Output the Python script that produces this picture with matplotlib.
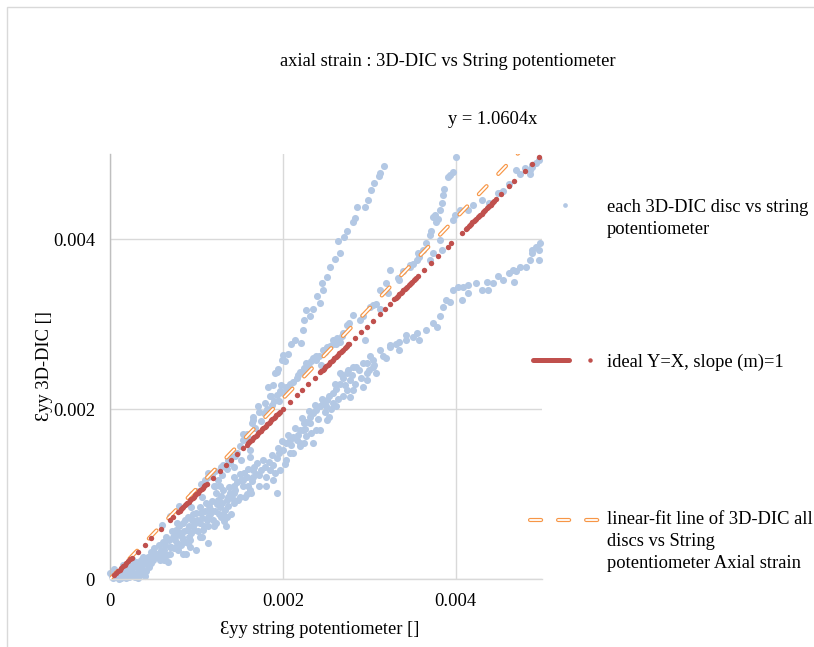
import numpy as np
import matplotlib
matplotlib.use('Agg')
import matplotlib.pyplot as plt
from matplotlib.lines import Line2D
from matplotlib.legend_handler import HandlerBase
from matplotlib.patches import Rectangle

plt.rcParams['font.family'] = ['Liberation Serif', 'DejaVu Serif']
plt.rcParams['lines.scale_dashes'] = False

BLUE = '#B3C8E4'
RED = '#C0504D'
ORANGE = '#F79646'
FS = 13.3

# values, in millistrain (x = string pot, y = 3D-DIC)
low_cluster = [
    (0.00, 0.07), (0.02, 0.03), (0.03, 0.05), (0.04, 0.01), (0.06, 0.08), (0.07, 0.02),
    (0.08, 0.04), (0.10, 0.00), (0.11, 0.06), (0.12, 0.03), (0.13, 0.01), (0.14, 0.10),
    (0.16, 0.06), (0.17, 0.03), (0.18, 0.12), (0.19, 0.01), (0.20, 0.08), (0.21, 0.05),
    (0.22, 0.02), (0.23, 0.10), (0.24, 0.15), (0.25, 0.08), (0.26, 0.12), (0.27, 0.03),
    (0.29, 0.02), (0.30, 0.06), (0.31, 0.14), (0.32, 0.01), (0.33, 0.09), (0.34, 0.16),
    (0.35, 0.05), (0.37, 0.12), (0.38, 0.08), (0.39, 0.18), (0.40, 0.04), (0.42, 0.10),
    (0.44, 0.18), (0.46, 0.26), (0.50, 0.22), (0.05, 0.12), (0.15, 0.17), (0.25, 0.24),
    (0.28, 0.18), (0.30, 0.20), (0.34, 0.12), (0.36, 0.22), (0.38, 0.26), (0.41, 0.22),
    (0.44, 0.26), (0.45, 0.14), (0.47, 0.32), (0.48, 0.19), (0.51, 0.36), (0.52, 0.30),
    (0.54, 0.30), (0.55, 0.26), (0.57, 0.40), (0.58, 0.22), (0.59, 0.34), (0.60, 0.28),
    (0.61, 0.44), (0.62, 0.34), (0.63, 0.22), (0.64, 0.40), (0.65, 0.50), (0.66, 0.28),
    (0.67, 0.20), (0.68, 0.46), (0.69, 0.38), (0.70, 0.30), (0.71, 0.38), (0.72, 0.56),
    (0.73, 0.50), (0.74, 0.36), (0.75, 0.46), (0.76, 0.58), (0.77, 0.42), (0.77, 0.66),
    (0.78, 0.52), (0.79, 0.34), (0.80, 0.62), (0.81, 0.54), (0.82, 0.40), (0.83, 0.50),
    (0.84, 0.66), (0.85, 0.46), (0.85, 0.30), (0.86, 0.56), (0.87, 0.70), (0.88, 0.30),
    (0.88, 0.44), (0.89, 0.58), (0.90, 0.42), (0.90, 0.73), (0.91, 0.62), (0.92, 0.50),
    (0.93, 0.46), (0.93, 0.38), (0.94, 0.54), (0.94, 0.85), (0.95, 0.70), (0.96, 0.62),
    (0.96, 0.77), (0.97, 0.58), (0.98, 0.66), (0.99, 0.78), (1.00, 0.34), (1.01, 0.70),
    (1.02, 0.56), (1.04, 0.66), (1.04, 0.50), (1.04, 0.85), (1.05, 0.78), (1.06, 0.50),
    (1.06, 0.97), (1.07, 0.72), (1.08, 0.58), (1.09, 0.62), (1.10, 0.80), (1.11, 0.90),
    (1.12, 0.69), (1.13, 0.42), (1.13, 0.73), (1.14, 0.62), (1.15, 0.86), (1.16, 0.77),
    (1.17, 0.81), (1.18, 0.92), (1.19, 0.70), (1.20, 0.62), (1.21, 1.09), (1.22, 0.80),
    (1.23, 0.66), (1.23, 1.01), (1.24, 0.88), (1.25, 0.93), (1.26, 0.76), (1.27, 0.85),
    (1.27, 1.09), (1.28, 0.98), (1.29, 0.73), (1.30, 0.90), (1.31, 0.77), (1.31, 1.05),
    (1.32, 0.68), (1.33, 0.81), (1.34, 0.62), (1.35, 0.93), (1.35, 0.73), (1.36, 0.97),
    (1.37, 0.86), (1.38, 1.08), (1.39, 1.01), (1.40, 0.77), (1.41, 0.95), (1.43, 0.89),
    (1.43, 1.09), (1.43, 1.20), (1.44, 1.01), (1.45, 1.05), (1.47, 1.14), (1.48, 0.93),
    (1.50, 0.97), (1.50, 1.24), (1.52, 1.17), (1.54, 1.09), (1.54, 1.16), (1.55, 1.25),
    (1.56, 0.97), (1.58, 1.20), (1.58, 1.00), (1.60, 1.09), (1.60, 1.30), (1.62, 1.05),
    (1.62, 1.44), (1.63, 1.01), (1.64, 1.15), (1.66, 1.20), (1.66, 1.28), (1.67, 1.32),
    (1.69, 1.24), (1.70, 1.36), (1.72, 1.10), (1.75, 1.28), (1.77, 1.40),
]

near_ideal = [
    (0.60, 0.64), (0.70, 0.74), (0.80, 0.86), (0.95, 1.00), (1.00, 1.04), (1.05, 1.12),
    (1.10, 1.17), (1.13, 1.20), (1.13, 1.25), (1.18, 1.22), (1.20, 1.10), (1.21, 1.27),
    (1.25, 1.17), (1.29, 1.32), (1.30, 1.22), (1.31, 1.34), (1.35, 1.30), (1.36, 1.40),
    (1.39, 1.36), (1.40, 1.44), (1.43, 1.32), (1.45, 1.45), (1.47, 1.48), (1.50, 1.56),
    (1.52, 1.40), (1.54, 1.63), (1.54, 1.71), (1.58, 1.71), (1.60, 1.66), (1.62, 1.52),
    (1.64, 1.83), (1.66, 1.87), (1.66, 1.91), (1.68, 1.78), (1.71, 2.03), (1.73, 1.97),
    (1.75, 1.86), (1.78, 1.95), (1.79, 2.07), (1.82, 2.00), (1.85, 2.15), (1.87, 2.05),
    (1.90, 2.10), (1.93, 2.17), (1.96, 2.09), (1.97, 2.21), (1.98, 2.28), (2.00, 2.19),
    (2.02, 2.20), (2.04, 2.26), (2.08, 2.30), (2.12, 2.32), (2.16, 2.36), (2.18, 2.40),
    (2.20, 2.44), (2.24, 2.42), (2.25, 2.48), (2.27, 2.54), (2.30, 2.50), (2.33, 2.56),
    (2.35, 2.60), (2.39, 2.58), (2.39, 2.62), (2.42, 2.62), (2.44, 2.52), (2.47, 2.69),
    (2.49, 2.67), (2.51, 2.73), (2.50, 2.71), (2.55, 2.74), (2.58, 2.77), (2.58, 2.81),
    (2.62, 2.77), (2.63, 2.84), (2.66, 2.79), (2.68, 2.86), (2.70, 2.89), (2.74, 2.99),
    (2.77, 3.01), (2.81, 3.11), (2.89, 3.05), (2.93, 3.09), (2.95, 2.81), (3.01, 3.20),
    (3.04, 3.22), (3.08, 3.24), (3.12, 3.18), (3.12, 3.40), (3.20, 3.48), (3.22, 3.36),
    (3.24, 3.64), (3.33, 3.54), (3.35, 3.52), (3.39, 3.62), (3.47, 3.67), (3.47, 3.69),
    (3.51, 3.71), (3.55, 3.75), (3.57, 3.83), (3.58, 3.79), (3.62, 3.87), (3.70, 3.75),
    (3.74, 3.83), (3.84, 3.87), (3.82, 3.99),
]

steep_disc = [
    (1.83, 2.26), (1.86, 2.15), (1.89, 2.28), (1.91, 2.42), (1.93, 2.44), (1.95, 2.47),
    (1.99, 2.58), (2.00, 2.64), (2.02, 2.56), (2.06, 2.65), (2.10, 2.77), (2.14, 2.81),
    (2.21, 2.78), (2.23, 2.93), (2.25, 3.05), (2.27, 3.16), (2.31, 3.09), (2.35, 3.18),
    (2.40, 3.33), (2.43, 3.25), (2.45, 3.48), (2.47, 3.40), (2.51, 3.55), (2.55, 3.67),
    (2.60, 3.77), (2.64, 3.98), (2.66, 3.83), (2.71, 4.02), (2.74, 4.09), (2.81, 4.20),
    (2.83, 4.25), (2.86, 4.38), (2.95, 4.38), (2.99, 4.46), (3.02, 4.58), (3.06, 4.66),
    (3.11, 4.74), (3.13, 4.78), (3.17, 4.86),
]

upper_disc = [
    (3.66, 3.95), (3.70, 4.05), (3.72, 4.10), (3.74, 4.26), (3.76, 4.28), (3.77, 4.20),
    (3.80, 4.24), (3.82, 4.34), (3.84, 4.42), (3.85, 4.52), (3.87, 4.59), (3.91, 4.73),
    (3.93, 4.75), (3.97, 4.79), (4.00, 4.96),
]

top_right = [
    (3.97, 4.22), (3.99, 4.28), (4.05, 4.34), (4.14, 4.34), (4.20, 4.40), (4.30, 4.46),
    (4.39, 4.42), (4.49, 4.54), (4.51, 4.54), (4.55, 4.56), (4.62, 4.65), (4.70, 4.81),
    (4.74, 4.77), (4.80, 4.83), (4.86, 4.81), (4.86, 4.77), (4.88, 4.87), (4.89, 4.85),
    (4.93, 4.90), (4.97, 4.93),
]

lower_band = [
    (1.73, 1.22), (1.79, 1.32), (1.80, 1.20), (1.81, 1.09), (1.84, 1.38), (1.85, 1.28),
    (1.88, 1.46), (1.89, 1.17), (1.89, 1.34), (1.91, 1.25), (1.93, 1.42), (1.93, 1.01),
    (1.95, 1.54), (1.96, 1.48), (1.97, 1.28), (1.99, 1.62), (2.00, 1.52), (2.02, 1.35),
    (2.04, 1.60), (2.04, 1.40), (2.06, 1.70), (2.08, 1.63), (2.08, 1.48), (2.10, 1.58),
    (2.12, 1.67), (2.12, 1.48), (2.14, 1.78), (2.16, 1.63), (2.18, 1.70), (2.20, 1.75),
    (2.20, 1.60), (2.20, 1.56), (2.22, 1.90), (2.23, 1.75), (2.24, 1.83), (2.24, 1.60),
    (2.26, 1.76), (2.27, 1.85), (2.27, 1.68), (2.30, 1.98), (2.31, 1.91), (2.31, 1.83),
    (2.33, 1.72), (2.35, 1.95), (2.35, 1.60), (2.37, 2.05), (2.39, 1.99), (2.39, 1.75),
    (2.41, 1.88), (2.43, 2.03), (2.43, 1.75), (2.45, 2.12), (2.47, 2.07), (2.49, 1.96),
    (2.50, 2.03), (2.51, 2.11), (2.51, 1.87), (2.54, 2.15), (2.54, 1.91), (2.56, 2.00),
    (2.58, 2.19), (2.58, 2.07), (2.60, 2.30), (2.62, 2.24), (2.62, 2.03), (2.64, 2.12),
    (2.66, 2.30), (2.68, 2.40), (2.70, 2.36), (2.70, 2.15), (2.72, 2.28), (2.74, 2.42),
    (2.74, 2.22), (2.76, 2.46), (2.78, 2.14), (2.78, 2.34), (2.80, 2.40), (2.81, 2.22),
    (2.84, 2.30), (2.88, 2.46), (2.90, 2.36), (2.93, 2.26), (2.97, 2.42), (2.97, 2.34),
    (3.00, 2.46), (3.04, 2.50), (3.06, 2.52), (3.08, 2.42), (3.20, 2.60),
]

right_band = [
    (2.66, 2.42), (2.81, 2.50), (2.85, 2.50), (2.93, 2.54), (2.97, 2.54), (3.01, 2.62),
    (3.04, 2.58), (3.12, 2.69), (3.16, 2.62), (3.24, 2.73), (3.24, 2.75), (3.31, 2.77),
    (3.35, 2.69), (3.35, 2.79), (3.43, 2.81), (3.43, 2.87), (3.51, 2.85), (3.55, 2.89),
    (3.58, 2.81), (3.66, 2.93), (3.74, 3.01), (3.78, 2.97), (3.82, 3.09), (3.85, 3.20),
    (3.89, 3.28), (3.93, 3.26), (3.97, 3.40), (4.03, 3.44), (4.07, 3.28), (4.09, 3.44),
    (4.14, 3.46), (4.14, 3.36), (4.24, 3.48), (4.30, 3.40), (4.36, 3.50), (4.38, 3.40),
    (4.43, 3.48), (4.49, 3.56), (4.55, 3.52), (4.62, 3.60), (4.66, 3.64), (4.68, 3.50),
    (4.70, 3.62), (4.74, 3.67), (4.82, 3.67), (4.86, 3.75), (4.88, 3.87), (4.89, 3.83),
    (4.93, 3.91), (4.97, 3.87), (4.97, 3.75), (4.98, 3.95),
]

# string pot readings used for the ideal Y=X series
ideal_x = [
    0.05, 0.07, 0.09, 0.11, 0.13, 0.15, 0.17, 0.19, 0.21, 0.23, 0.25,
    0.32, 0.40, 0.48, 0.59, 0.69, 0.73,
    0.79, 0.805, 0.82, 0.835, 0.85, 0.865, 0.88, 0.895, 0.91, 0.925, 0.94, 0.955,
    0.97, 0.985, 1.00, 1.015, 1.03, 1.045, 1.06, 1.075, 1.09, 1.105, 1.12,
    1.19, 1.27, 1.34, 1.40, 1.47, 1.54,
    1.58, 1.595, 1.61, 1.625, 1.64, 1.655, 1.67, 1.685, 1.70, 1.715, 1.73, 1.745,
    1.76, 1.775, 1.79, 1.805, 1.82, 1.835, 1.85, 1.865, 1.88, 1.895, 1.91, 1.925,
    1.94, 1.955, 1.97,
    2.00, 2.08, 2.16, 2.22, 2.29, 2.37,
    2.43, 2.445, 2.46, 2.475, 2.49, 2.505, 2.52, 2.535, 2.55, 2.565, 2.58, 2.595,
    2.61, 2.625, 2.64, 2.655, 2.67, 2.685, 2.70, 2.715, 2.73, 2.745, 2.76, 2.77,
    2.83, 2.91, 2.97, 3.04, 3.12, 3.18, 3.24,
    3.29, 3.305, 3.32, 3.335, 3.35, 3.365, 3.38, 3.395, 3.41, 3.425, 3.44, 3.455,
    3.47, 3.485, 3.50, 3.515, 3.53, 3.545,
    3.56, 3.64, 3.72, 3.80, 3.91, 3.95, 4.07,
    4.12, 4.135, 4.15, 4.165, 4.18, 4.195, 4.21, 4.225, 4.24, 4.255, 4.27, 4.285,
    4.30, 4.315, 4.33, 4.345, 4.36, 4.375, 4.39, 4.405, 4.42, 4.435, 4.45, 4.465,
    4.53, 4.62, 4.68, 4.80, 4.88, 4.96,
]
ideal_y = ideal_x  # Y = X

fit_slope = 1.0604
fit_x = [0.0, 5.0]
fit_y = [0.0, 5.302]

ticks = [0.0, 0.002, 0.004]
tick_labels = ['0', '0.002', '0.004']

dic = np.array(low_cluster + near_ideal + steep_disc + upper_disc + top_right
               + lower_band + right_band) * 1e-3
ix = np.array(ideal_x) * 1e-3
iy = np.array(ideal_y) * 1e-3

fig = plt.figure(figsize=(8.14, 6.47), dpi=100)
ax = fig.add_axes([110 / 814, 68 / 647, 432 / 814, 425 / 647])

ax.scatter(dic[:, 0], dic[:, 1], s=26, color=BLUE, linewidths=0, zorder=2, clip_on=False)
dash = (8.0, 12.2)
ax.plot(np.array(fit_x) * 1e-3, np.array(fit_y) * 1e-3, color=ORANGE, lw=3.0,
        dashes=dash, dash_capstyle='round', zorder=3)
ax.plot(np.array(fit_x) * 1e-3, np.array(fit_y) * 1e-3, color='white', lw=1.3,
        dashes=dash, dash_capstyle='round', zorder=3.1)
ax.scatter(ix, iy, s=15, color=RED, linewidths=0, zorder=4, clip_on=False)

ax.set_xlim(0, 0.005)
ax.set_ylim(0, 0.005)
ax.set_xticks(ticks)
ax.set_xticklabels(tick_labels)
ax.set_yticks(ticks)
ax.set_yticklabels(tick_labels)
ax.tick_params(length=0, labelsize=FS)
ax.tick_params(axis='x', pad=10)
ax.tick_params(axis='y', pad=10.8)
ax.grid(True, color='#D9D9D9', lw=1.0)
ax.set_axisbelow(True)
for side in ['top', 'right']:
    ax.spines[side].set_visible(False)
ax.spines['left'].set_color('#BFBFBF')
ax.spines['left'].set_linewidth(1.0)
ax.spines['bottom'].set_color('#D9D9D9')
ax.spines['bottom'].set_linewidth(1.0)

ax.set_xlabel('Ɛyy string potentiometer []', fontsize=FS)
ax.xaxis.set_label_coords(0.486, -0.10)
ax.set_ylabel('Ɛyy 3D-DIC []', fontsize=FS)
ax.yaxis.set_label_coords(-0.132, 0.5)

fig.text(448 / 814, 1 - 62 / 647, 'axial strain : 3D-DIC vs String potentiometer',
         fontsize=FS, ha='center', va='center')
fig.text(493 / 814, 1 - 120 / 647, f'y = {fit_slope:.4f}x', fontsize=FS,
         ha='center', va='center')

LINE_STEP = 15.84  # pt between legend text lines


class EntryHandler(HandlerBase):
    """Legend key drawn level with the first line of a wrapped label."""

    def __init__(self, kind, n_lines=1, extra=0.0):
        super().__init__()
        self.kind = kind
        self.shift = (n_lines - 1) / 2 * LINE_STEP + extra

    def create_artists(self, legend, orig_handle, xdescent, ydescent, width, height,
                       fontsize, trans):
        yc = height / 2 - ydescent + self.shift
        x0 = -xdescent
        if self.kind == 'dot':
            return [Line2D([x0 + 0.5 * width], [yc], ls='none', marker='o', ms=3.4,
                           mfc=BLUE, mec='none', transform=trans)]
        if self.kind == 'ideal':
            line = Line2D([x0 + 1.8, x0 + 0.6 * width - 1.8], [yc, yc], color=RED,
                          lw=3.6, solid_capstyle='round', transform=trans)
            dot = Line2D([x0 + 0.857 * width], [yc], ls='none', marker='o', ms=3.2,
                         mfc=RED, mec='none', transform=trans)
            return [line, dot]
        outer = Line2D([x0, x0 + width], [yc, yc], color=ORANGE, lw=3.0, dashes=dash,
                       dash_capstyle='round', transform=trans)
        inner = Line2D([x0, x0 + width], [yc, yc], color='white', lw=1.3, dashes=dash,
                       dash_capstyle='round', transform=trans)
        return [outer, inner]


leg_kw = dict(frameon=False, fontsize=FS, handlelength=3.78, handletextpad=0.38,
              borderpad=0, borderaxespad=0)

h_dic, h_ideal, h_fit = Line2D([], []), Line2D([], []), Line2D([], [])
legends = []
legends.append(fig.legend(handles=[h_dic], labels=['each 3D-DIC disc vs string\npotentiometer'],
                          handler_map={h_dic: EntryHandler('dot', 2, 2.0)},
                          loc='upper left', bbox_to_anchor=(530 / 814, 1 - 199 / 647), **leg_kw))
legends.append(fig.legend(handles=[h_ideal], labels=['ideal Y=X, slope (m)=1'],
                          handler_map={h_ideal: EntryHandler('ideal')},
                          loc='center left', bbox_to_anchor=(530 / 814, 1 - 362 / 647), **leg_kw))
legends.append(fig.legend(handles=[h_fit],
                          labels=['linear-fit line of 3D-DIC all\ndiscs vs String\npotentiometer Axial strain'],
                          handler_map={h_fit: EntryHandler('fit', 3)},
                          loc='upper left', bbox_to_anchor=(530 / 814, 1 - 511 / 647), **leg_kw))
for leg in legends:
    for t in leg.get_texts():
        t.set_linespacing(1.39)

fig.patches.append(Rectangle((7 / 814, -0.05), 1.0, 1 - 7 / 647 + 0.05,
                             transform=fig.transFigure, fill=False,
                             ec='#D9D9D9', lw=1.0))

fig.savefig('out.png', dpi=100)
